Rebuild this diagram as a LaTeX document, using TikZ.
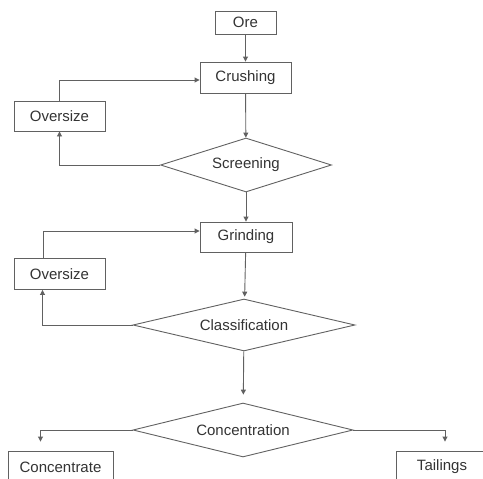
\documentclass[tikz,border=0pt]{standalone}
\usepackage{fontspec}
\setmainfont{Liberation Sans}
\usetikzlibrary{arrows.meta,positioning,shapes.geometric,calc}

\definecolor{linegray}{gray}{0.38}
\definecolor{textgray}{gray}{0.2}

\tikzset{
  procbox/.style={draw=linegray, line width=0.9pt, text=textgray, inner sep=0pt,
    minimum width=91pt, minimum height=30pt, font=\fontsize{15}{17}\selectfont},
  decide/.style={diamond, aspect=4, draw=linegray, line width=0.9pt, text=textgray, inner sep=0pt,
    font=\fontsize{15}{17}\selectfont},
  flow/.style={draw=linegray, line width=0.9pt, -{Triangle[length=5pt,width=5pt]}}
}

\begin{document}
\begin{tikzpicture}[x=1pt,y=-1pt]
  \useasboundingbox (0,0) rectangle (483,479);
  \clip (0,0) rectangle (483,479);

  % main line
  \node[procbox, minimum width=61pt, minimum height=23pt] (ore) at (245.5,22.5) {Ore};
  \node[procbox, minimum height=31pt] (crush) at (245.5,77.5) {Crushing};
  \node[decide, minimum width=171pt, minimum height=54pt] (screen) at (246,165) {Screening};
  \node[procbox, minimum width=92pt] (grind) at (246,237) {Grinding};
  \node[decide, minimum width=222pt, minimum height=52pt] (classif) at (244,325) {Classification};
  \node[decide, minimum width=220pt, minimum height=54pt] (conc) at (243,430) {Concentration};

  % side boxes
  \node[procbox] (over1) at (59.5,116) {Oversize};
  \node[procbox, minimum height=31pt] (over2) at (59.5,274) {Oversize};
  \node[procbox, minimum width=105pt, minimum height=32pt] (concentrate) at (60.5,467) {Concentrate};
  \node[procbox, minimum width=92pt, minimum height=32pt] (tailings) at (442,467) {Tailings};

  \draw[flow] (ore) -- (crush);
  \draw[flow] (crush) -- (screen);
  \draw[flow] (screen) -- (grind);
  \draw[flow, shorten >=2pt] (grind) -- (classif);
  \draw[flow, shorten >=8pt] (classif) -- (conc);

  % recycle loops
  \draw[flow] (screen.west) -| (over1.south);
  \draw[flow] (over1.north) |- ([yshift=-2.5pt]crush.west);
  \draw[flow] (classif.west) -| ([xshift=-17pt]over2.south);
  \draw[flow] ([xshift=-16pt]over2.north) |- ([yshift=6pt]grind.west);

  % products
  \draw[flow, shorten >=9pt] (conc.west) -| ([xshift=-20pt]concentrate.north);
  \draw[flow, shorten >=9pt] (conc.east) -| ([xshift=3pt]tailings.north);
\end{tikzpicture}
\end{document}
